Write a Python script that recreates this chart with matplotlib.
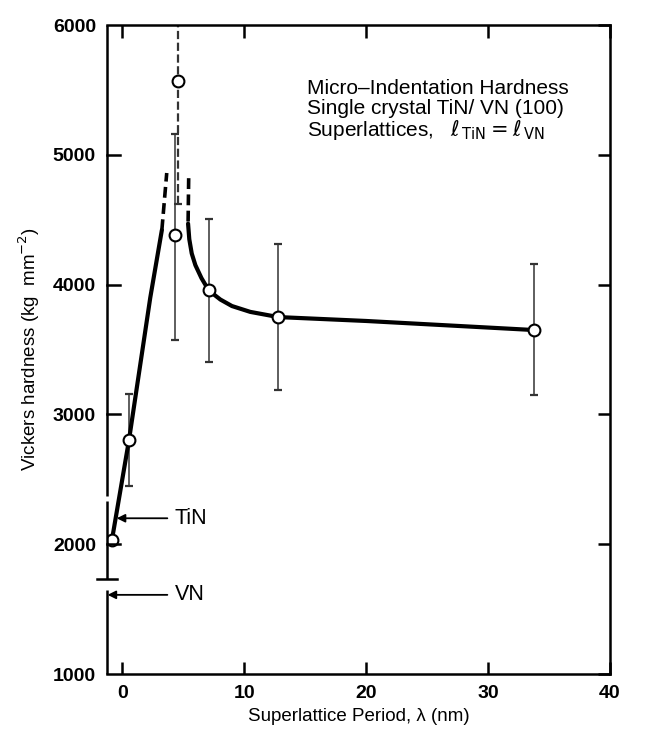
import matplotlib
matplotlib.use("Agg")
import matplotlib.pyplot as plt
import matplotlib.transforms as mtransforms

plt.rcParams['font.family'] = ['Liberation Sans', 'DejaVu Sans']

# ---- data ----
period = [-0.85, 0.55, 4.3, 4.6, 7.1, 12.8, 33.8]
hardness = [2030, 2800, 4380, 5570, 3955, 3750, 3650]
err_low = [0, 350, 810, 950, 550, 560, 500]
err_high = [0, 355, 780, 950, 550, 565, 510]

# hand-drawn guide curve
rise_x = [-0.85, 0.55, 2.3, 3.25]
rise_y = [2030, 2800, 3900, 4420]
rise_dash_x = [3.25, 3.65]
rise_dash_y = [4420, 4860]
fall_dash_x = [5.45, 5.4]
fall_dash_y = [4820, 4470]
fall_x = [5.4, 5.5, 5.7, 6.0, 6.5, 7.1, 8.05, 9.0, 10.5, 12.8, 20.0, 33.8]
fall_y = [4470, 4350, 4240, 4150, 4050, 3955, 3885, 3835, 3790, 3750, 3720, 3650]

# reference values of the bulk nitrides
tin_value = 2200
vn_value = 1610
bulk_bar = [1730, 2330]

xticks = [0, 10, 20, 30, 40]
yticks = [1000, 2000, 3000, 4000, 5000, 6000]

fig = plt.figure(figsize=(6.54, 7.36), dpi=100)
ax = fig.add_axes([0.1636, 0.0842, 0.769, 0.8818])
ax.set_xlim(-1.25, 40)
ax.set_ylim(1000, 6000)

# guide curve
ax.plot(rise_x, rise_y, color='black', lw=3.0, solid_capstyle='round',
        solid_joinstyle='round', zorder=3)
ax.plot(rise_dash_x, rise_dash_y, color='black', lw=2.6, ls=(0, (3, 1.5)), zorder=3)
ax.plot(fall_dash_x, fall_dash_y, color='black', lw=2.6, ls=(0, (3, 1.5)), zorder=3)
ax.plot(fall_x, fall_y, color='black', lw=3.0, solid_capstyle='round',
        solid_joinstyle='round', zorder=3)

# error bars
for i, (x, y, lo, hi) in enumerate(zip(period, hardness, err_low, err_high)):
    if lo == 0 and hi == 0:
        continue
    eb = ax.errorbar([x], [y], yerr=[[lo], [hi]], fmt='none', ecolor='#333333',
                     elinewidth=1.1, capsize=3, capthick=1.6, zorder=2)
    if i == 3:
        eb[2][0].set_linestyle('--')
        eb[2][0].set_linewidth(1.6)

# data points
ax.plot(period, hardness, ls='none', marker='o', ms=8.5, mfc='white', mec='black',
        mew=1.5, zorder=4)

# left spine drawn by hand with gaps and the bulk bar
ax.spines['left'].set_visible(False)
trans = mtransforms.blended_transform_factory(ax.transAxes, ax.transData)
segs = [(1000, vn_value + 40), (bulk_bar[0], bulk_bar[1]), (bulk_bar[1] + 40, 6000)]
for a, b in segs:
    ax.plot([0, 0], [a, b], color='black', lw=1.8, transform=trans, clip_on=False,
            solid_capstyle='butt', zorder=5)
ax.plot([-0.02, 0.02], [bulk_bar[0], bulk_bar[0]], color='black', lw=1.8,
        transform=trans, clip_on=False, zorder=5)

# arrows to TiN and VN
ax.annotate('', xy=(-0.45, tin_value), xytext=(3.7, tin_value),
            arrowprops=dict(arrowstyle='-|>', color='black', lw=1.3,
                            mutation_scale=12, shrinkA=0, shrinkB=0))
ax.annotate('', xy=(-1.2, vn_value), xytext=(3.7, vn_value),
            arrowprops=dict(arrowstyle='-|>', color='black', lw=1.3,
                            mutation_scale=12, shrinkA=0, shrinkB=0))
ax.text(4.3, tin_value, 'TiN', fontsize=15.5, va='center', ha='left')
ax.text(4.3, vn_value, 'VN', fontsize=15.5, va='center', ha='left')

# annotation block
fs = 15
fig.text(307 / 654, 1 - 88 / 736, 'Micro–Indentation Hardness', fontsize=fs, va='center')
fig.text(307 / 654, 1 - 108 / 736, 'Single crystal TiN/ VN (100)', fontsize=fs, va='center')
fig.text(307 / 654, 1 - 130 / 736,
         r'Superlattices,   $\ell_{\,\mathrm{TiN}}=\ell_{\,\mathrm{VN}}$',
         fontsize=fs, va='center')

# axes styling
for s in ['top', 'right', 'bottom']:
    ax.spines[s].set_linewidth(1.8)
ax.set_xticks(xticks)
ax.set_yticks(yticks)
ax.tick_params(direction='in', length=9, width=1.8, top=True, right=True,
               labelsize=14, pad=8)
for lab in ax.get_xticklabels() + ax.get_yticklabels():
    lab.set_fontweight('bold')
ax.tick_params(axis='y', left=False)
# left ticks drawn by hand (spine is manual)
for yt in yticks[1:-1]:
    ax.plot([0, 0.025], [yt, yt], color='black', lw=1.8, transform=trans,
            clip_on=False, zorder=5)

ax.set_xlabel('Superlattice Period, λ (nm)', fontsize=13.5, labelpad=4)
ax.set_ylabel(r'Vickers hardness (kg  mm$^{-2}$)', fontsize=13.5, labelpad=8)

fig.savefig('out.png', dpi=100)
